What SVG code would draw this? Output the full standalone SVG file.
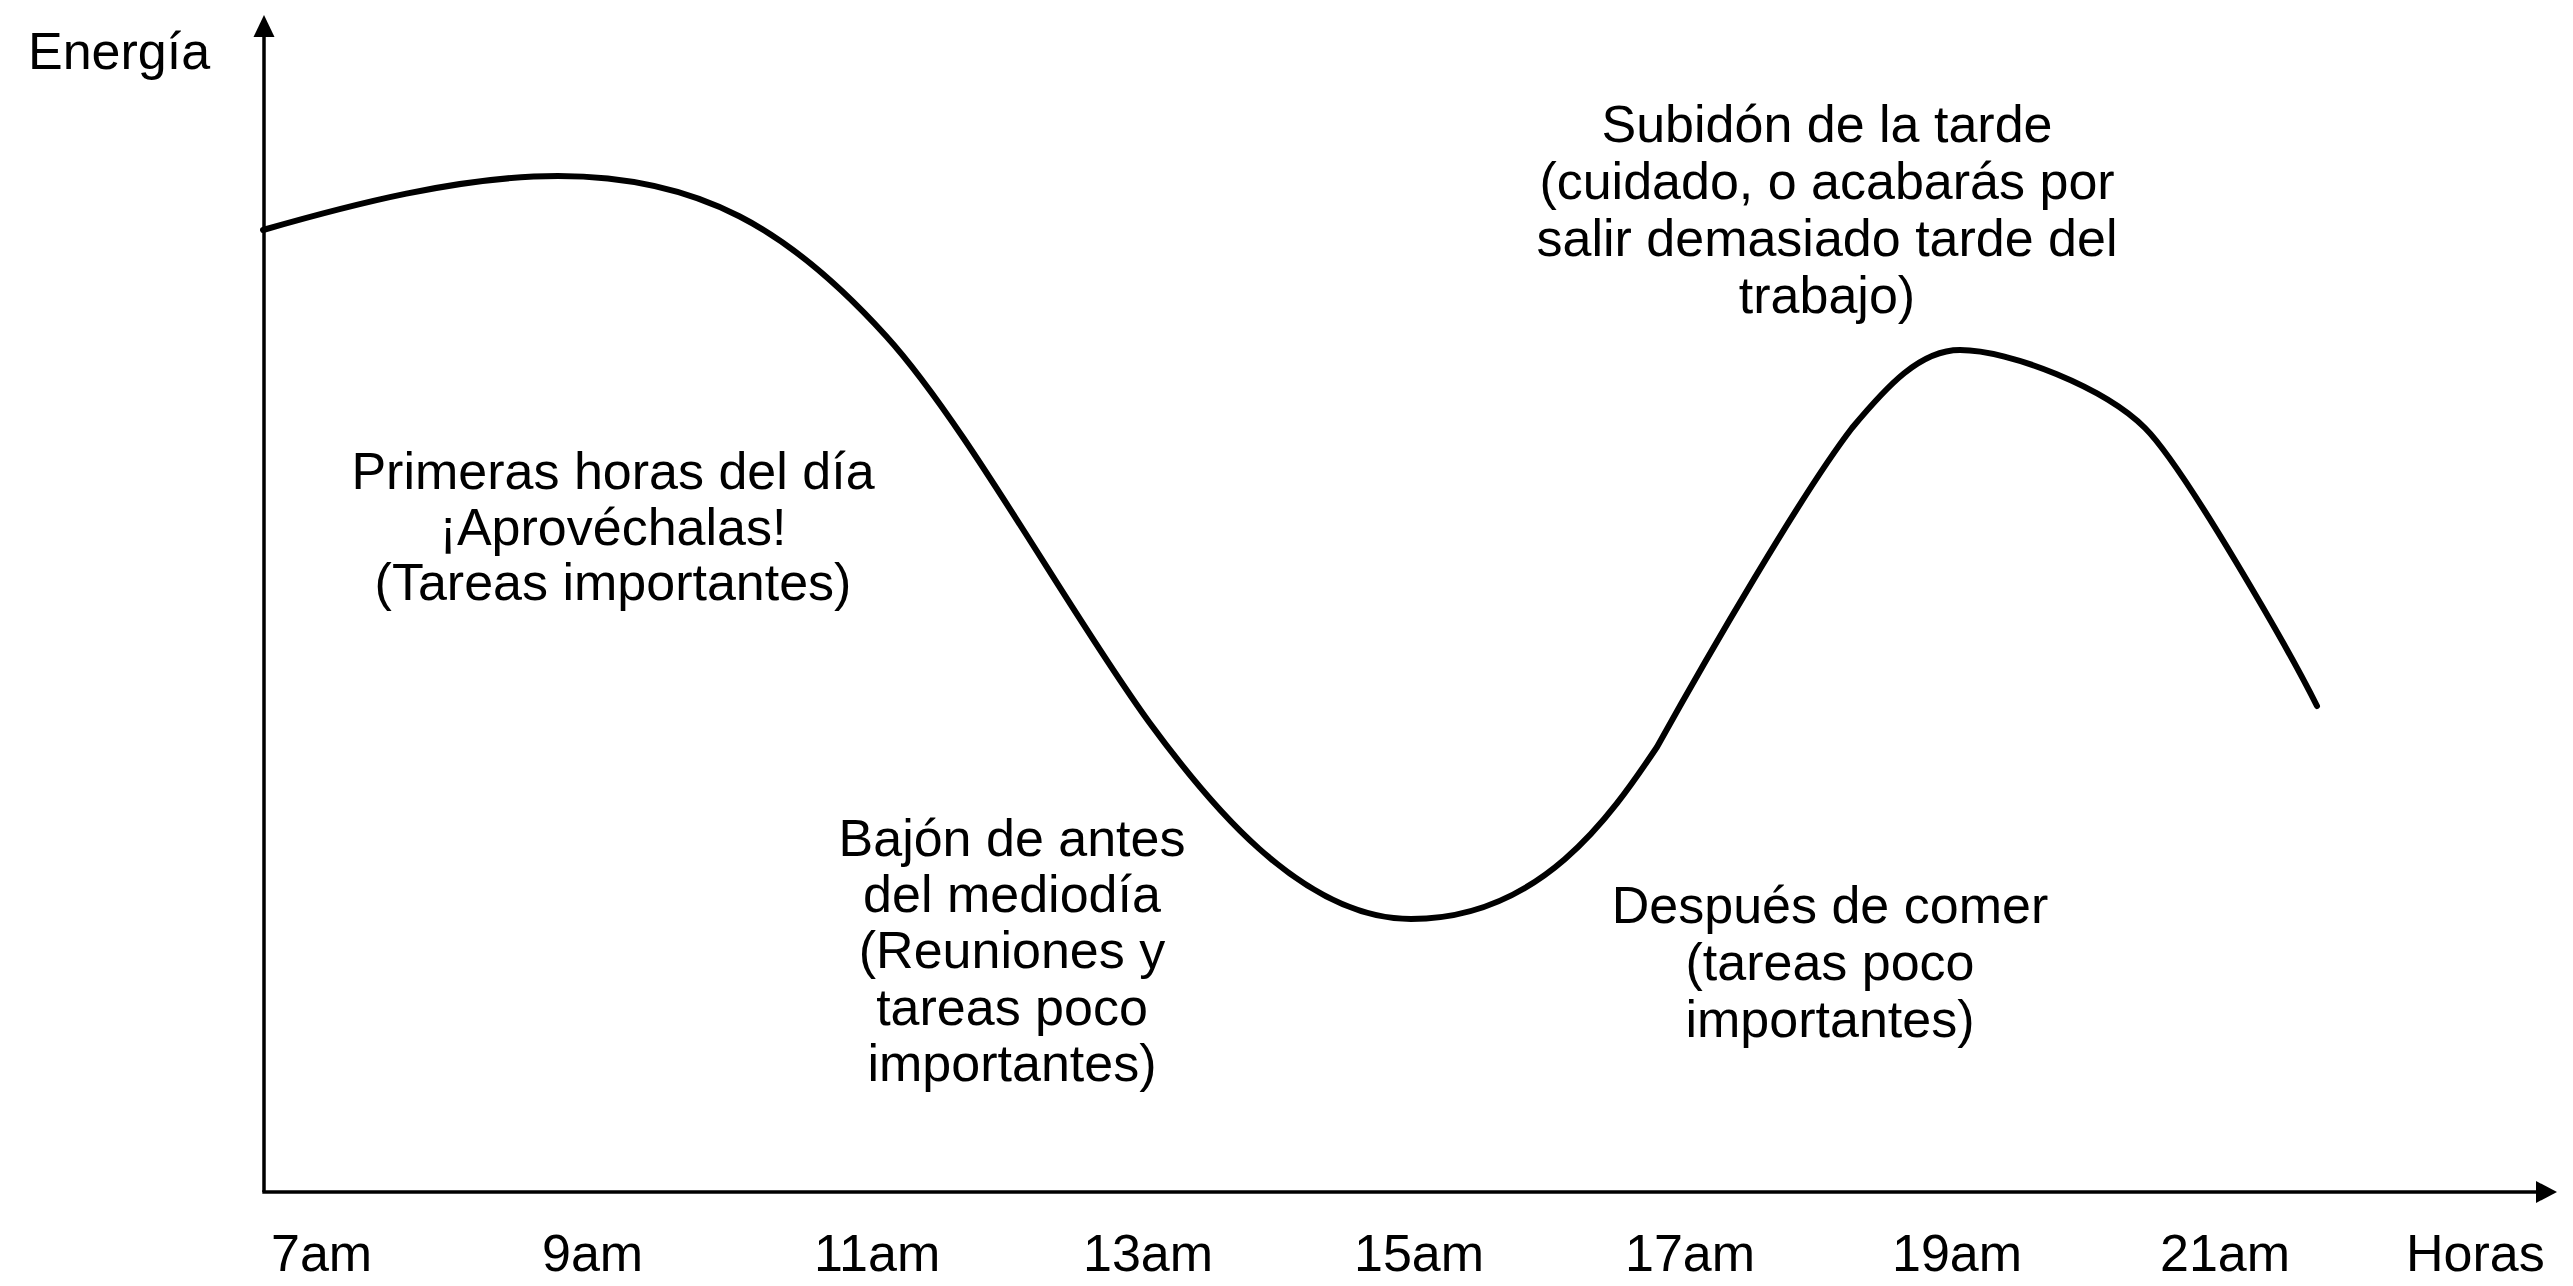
<svg xmlns="http://www.w3.org/2000/svg" width="2573" height="1286" viewBox="0 0 2573 1286">
<style>
text{font-family:"Liberation Sans",Arial,Helvetica,sans-serif;font-size:52px;fill:#000}
.c{text-anchor:middle}
.axis{stroke:#000;stroke-width:3.5;fill:none}
.curve{stroke:#000;stroke-width:6;fill:none;stroke-linecap:round;stroke-linejoin:round}
</style>
<rect width="2573" height="1286" fill="#fff"/>
<g id="axes">
<line class="axis" x1="264" y1="1192" x2="264" y2="34"/>
<polygon points="264,15 253.5,37 274.5,37" fill="#000"/>
<line class="axis" x1="262.3" y1="1192" x2="2540" y2="1192"/>
<polygon points="2557,1192 2536,1181 2536,1203" fill="#000"/>
</g>
<g id="connectors">
<path class="curve" d="M263,230 C350,205 460,176 558,176 C700,176 790,230 886,336 C966,424 1069,612 1149,722 C1204,797 1300,919 1411,919 C1540,919 1610,817 1657,747 C1707,657 1802,493 1852,428 C1887,386 1920,350 1960,350 C2010,350 2105,388 2145,428 C2185,468 2290,652 2317,706"/>
</g>
<g id="label-energia"><text x="28" y="69">Energía</text></g>
<g id="label-primeras">
<text class="c" x="613" y="489">Primeras horas del día</text>
<text class="c" x="613" y="545">¡Aprovéchalas!</text>
<text class="c" x="613" y="600">(Tareas importantes)</text>
</g>
<g id="label-bajon">
<text class="c" x="1012" y="856">Bajón de antes</text>
<text class="c" x="1012" y="912">del mediodía</text>
<text class="c" x="1012" y="968">(Reuniones y</text>
<text class="c" x="1012" y="1025">tareas poco</text>
<text class="c" x="1012" y="1081">importantes)</text>
</g>
<g id="label-despues">
<text class="c" x="1830" y="923">Después de comer</text>
<text class="c" x="1830" y="980">(tareas poco</text>
<text class="c" x="1830" y="1037">importantes)</text>
</g>
<g id="label-subidon">
<text class="c" x="1827" y="142">Subidón de la tarde</text>
<text class="c" x="1827" y="199">(cuidado, o acabarás por</text>
<text class="c" x="1827" y="256">salir demasiado tarde del</text>
<text class="c" x="1827" y="313">trabajo)</text>
</g>
<g id="ticks">
<text x="271" y="1271">7am</text>
<text x="542" y="1271">9am</text>
<text x="814" y="1271">11am</text>
<text x="1083" y="1271">13am</text>
<text x="1354" y="1271">15am</text>
<text x="1625" y="1271">17am</text>
<text x="1892" y="1271">19am</text>
<text x="2160" y="1271">21am</text>
<text x="2406" y="1271">Horas</text>
</g>
</svg>
